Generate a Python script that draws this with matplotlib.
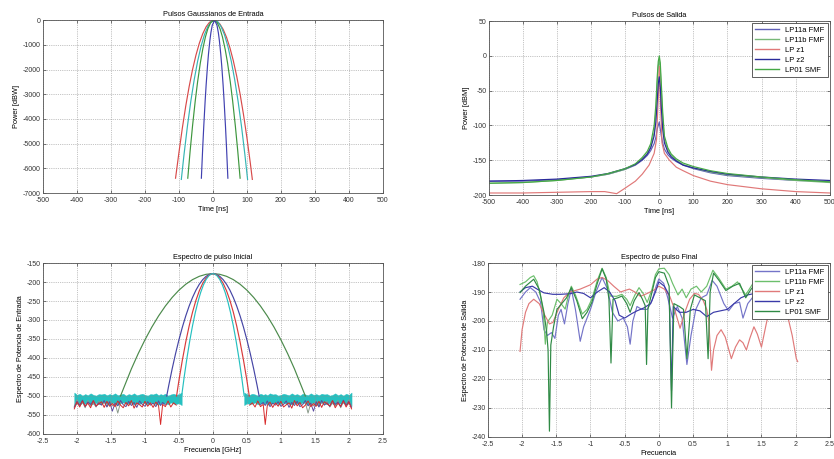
import matplotlib
matplotlib.use("Agg")
import matplotlib.pyplot as plt
import numpy as np

plt.rcParams['font.family'] = ['Liberation Sans', 'DejaVu Sans']
plt.rcParams['font.size'] = 5
plt.rcParams['axes.unicode_minus'] = False

# ---------------- top left: input gaussian pulses ----------------
t_red = [-110, -100, -90, -80, -70, -60, -50, -40, -30, -20, -10, 0, 3, 10, 20, 30, 40, 50, 60, 70, 80, 90, 100, 110, 116]
p_red = [-6400, -5358, -4368, -3479, -2691, -2004, -1419, -934, -550, -267, -85, -5, 0, -25, -146, -368, -691, -1116, -1641, -2267, -2994, -3822, -4752, -5782, -6448]
t_cyan = [-93, -85, -75, -65, -55, -45, -35, -25, -15, -5, 4.5, 14, 24, 34, 44, 54, 64, 74, 84, 94, 102]
p_cyan = [-6450, -5435, -4288, -3277, -2402, -1662, -1059, -590, -258, -61, 0, -61, -258, -590, -1059, -1662, -2402, -3277, -4288, -5435, -6450]
t_green = [-74, -67, -60, -52, -45, -37, -30, -22, -15, -7, 3, 13, 21, 28, 36, 43, 51, 58, 66, 73, 80]
p_green = [-6400, -5289, -4284, -3265, -2487, -1727, -1175, -675, -350, -108, 0, -108, -350, -675, -1175, -1727, -2487, -3265, -4284, -5289, -6400]
t_blue = [-34, -30, -27, -23, -20, -16, -13, -9, -6, -2, 5, 12, 16, 19, 23, 26, 30, 33, 37, 40, 44]
p_blue = [-6400, -5155, -4309, -3299, -2630, -1856, -1363, -825, -509, -206, 0, -206, -509, -825, -1363, -1856, -2630, -3299, -4309, -5155, -6400]

# ---------------- top right: output pulses ----------------
t_out = [-500, -400, -300, -200, -150, -100, -70, -50, -35, -25, -15, -10, -6, -3, 0, 3, 6, 10, 15, 25, 35, 50, 70, 100, 150, 200, 300, 400, 500]
out_lp11a = [-180, -180, -178, -174, -170, -163, -157, -150, -143, -136, -126, -117, -105, -100, -95, -105, -115, -125, -134, -142, -147, -152, -157, -162, -168, -172, -176, -179, -180]
out_lp11b = [-183, -182, -179, -174, -170, -163, -156, -148, -140, -130, -110, -80, -40, -15, -5, -20, -50, -90, -120, -135, -143, -150, -156, -161, -167, -171, -175, -179, -182]
out_lpz2 = [-180, -179, -177, -173, -169, -162, -156, -149, -141, -132, -115, -95, -65, -40, -30, -45, -75, -105, -125, -138, -145, -151, -157, -161, -166, -170, -174, -177, -179]
out_lp01 = [-183, -182, -179, -174, -169, -162, -155, -146, -137, -126, -100, -70, -30, -8, 0, -10, -40, -80, -115, -132, -141, -148, -154, -159, -165, -169, -174, -178, -181]
t_out_z1 = [-500, -400, -300, -200, -160, -125, -100, -70, -50, -30, -15, -8, -3, 0, 3, 8, 15, 30, 50, 70, 100, 150, 200, 300, 400, 500]
out_lpz1 = [-197, -197, -196, -195, -195, -198, -190, -180, -170, -157, -140, -120, -60, -15, -60, -125, -140, -150, -160, -165, -172, -180, -185, -191, -195, -197]

# ---------------- bottom left: input spectra ----------------
f_sg = [-1.36, -1.2, -1.1, -1.0, -0.9, -0.8, -0.7, -0.6, -0.5, -0.4, -0.3, -0.2, -0.1, 0, 0.1, 0.2, 0.3, 0.4, 0.5, 0.6, 0.7, 0.8, 0.9, 1.0, 1.1, 1.2, 1.36]
s_green = [-500, -428.7, -388.7, -352.1, -319, -289.4, -263.3, -240.7, -221.5, -205.9, -193.7, -185, -179.7, -178, -179.7, -185, -193.7, -205.9, -221.5, -240.7, -263.3, -289.4, -319, -352.1, -388.7, -428.7, -500]
f_sb = [-0.68, -0.65, -0.6, -0.55, -0.5, -0.45, -0.4, -0.35, -0.3, -0.25, -0.2, -0.15, -0.1, -0.05, 0, 0.05, 0.1, 0.15, 0.2, 0.25, 0.3, 0.35, 0.4, 0.45, 0.5, 0.55, 0.6, 0.65, 0.68]
s_blue = [-500, -472.2, -428.7, -388.7, -352.1, -319, -289.4, -263.3, -240.7, -221.5, -205.9, -193.7, -185, -179.7, -178, -179.7, -185, -193.7, -205.9, -221.5, -240.7, -263.3, -289.4, -319, -352.1, -388.7, -428.7, -472.2, -500]
f_sr = [-0.535, -0.5, -0.45, -0.4, -0.35, -0.3, -0.25, -0.2, -0.15, -0.1, -0.05, 0, 0.05, 0.1, 0.15, 0.2, 0.25, 0.3, 0.35, 0.4, 0.45, 0.5, 0.535]
s_red = [-500, -459, -405.8, -358, -315.8, -279.3, -248.3, -223, -203.3, -189.3, -180.8, -178, -180.8, -189.3, -203.3, -223, -248.3, -279.3, -315.8, -358, -405.8, -459, -500]
f_sc = [-0.46, -0.42, -0.38, -0.34, -0.3, -0.26, -0.22, -0.18, -0.14, -0.1, -0.06, -0.02, 0, 0.02, 0.06, 0.1, 0.14, 0.18, 0.22, 0.26, 0.3, 0.34, 0.38, 0.42, 0.46]
s_cyan = [-500, -446.4, -397.7, -353.9, -315, -280.9, -251.7, -227.3, -207.8, -193.2, -183.5, -178.6, -178, -178.6, -183.5, -193.2, -207.8, -227.3, -251.7, -280.9, -315, -353.9, -397.7, -446.4, -500]

# noise floor, left half (the spectrum is symmetric, right half mirrors it)
nf = [-2.04, -2.00, -1.96, -1.92, -1.88, -1.84, -1.80, -1.76, -1.72, -1.68,
      -1.64, -1.60, -1.56, -1.52, -1.48, -1.44, -1.40, -1.36, -1.32, -1.28,
      -1.24, -1.20, -1.16, -1.12, -1.08, -1.04, -1.00, -0.96, -0.92, -0.88,
      -0.84, -0.80, -0.77, -0.74, -0.70, -0.66, -0.62, -0.58, -0.54, -0.50, -0.46]
cyan_hi = [-491, -497, -494, -499, -495, -498, -493, -497, -499, -495,
           -496, -494, -498, -495, -497, -493, -498, -496, -494, -499,
           -495, -497, -493, -498, -496, -494, -497, -499, -495, -496,
           -493, -498, -495, -497, -494, -499, -496, -494, -497, -495, -491]
cyan_lo = [-526, -519, -523, -518, -521, -517, -524, -520, -518, -522,
           -519, -517, -521, -524, -518, -520, -523, -519, -517, -521,
           -520, -518, -523, -519, -521, -517, -520, -522, -518, -519,
           -521, -523, -518, -520, -519, -522, -517, -520, -521, -519, -524]
red_n = [-534, -516, -529, -513, -527, -519, -531, -512, -526, -521,
         -515, -530, -514, -527, -520, -528, -513, -524, -531, -517,
         -526, -512, -532, -518, -523, -529, -514, -527, -518, -530,
         -516, -525, -575, -522, -528, -513, -529, -518, -524, -515, -520]
blue_n = [-530, -514, -525, -511, -528, -516, -522, -513, -527, -518,
          -524, -512, -529, -515, -540, -519, -526, -512, -523, -528,
          -514, -525, -517, -530, -513, -522, -527, -515, -524, -519,
          -528, -513, -525, -517, -523, -515, -526, -514, -522, -516, -520]
green_n = [-527, -510, -522, -515, -531, -512, -525, -518, -529, -514,
           -523, -516, -528, -513, -526, -519, -545, -517, -524, -512,
           -520, -515, -522, -518, -521, -516, -520, -517, -522, -518,
           -521, -516, -520, -518, -522, -517, -521, -519, -520, -518, -520]

# ---------------- bottom right: output spectra ----------------
f_a = [-2.03, -1.95, -1.88, -1.8, -1.73, -1.68, -1.63, -1.57, -1.52, -1.47, -1.43, -1.38, -1.33, -1.28, -1.22, -1.15, -1.1, -1.0, -0.92, -0.83, -0.75, -0.68, -0.6, -0.52, -0.46, -0.42, -0.38, -0.32, -0.25, -0.17, -0.1, -0.04,
       0, 0.07, 0.13, 0.2, 0.27, 0.34, 0.41, 0.47, 0.54, 0.62, 0.7, 0.78, 0.85, 0.95, 1.02, 1.1, 1.18, 1.23, 1.3, 1.4, 1.5, 1.7, 2.03]
sp_lp11a = [-192.5, -190, -188.5, -190, -193.5, -203, -205, -204, -206, -198, -196, -201, -194, -189, -196, -207, -202, -196, -190, -185, -189, -197, -200, -199, -202, -208, -200, -195, -196, -196, -193, -188,
            -185.5, -187, -192, -199, -195, -199, -215, -205, -196, -192, -191, -186, -188, -194, -196.5, -194, -193.5, -199, -194, -191, -191, -190, -193]
f_b = [-2.03, -1.95, -1.88, -1.83, -1.78, -1.73, -1.69, -1.66, -1.63, -1.56, -1.49, -1.43, -1.37, -1.32, -1.28, -1.22, -1.12, -1.05, -0.98, -0.9, -0.83, -0.77, -0.71, -0.62, -0.54, -0.47, -0.42, -0.35, -0.29, -0.23, -0.17, -0.1, -0.05,
       0, 0.08, 0.15, 0.2, 0.28, 0.34, 0.4, 0.47, 0.55, 0.62, 0.7, 0.79, 0.87, 0.98, 1.07, 1.15, 1.27, 1.35, 1.42, 1.5, 1.7, 2.03]
sp_lp11b = [-187.4, -186.5, -185, -184.4, -186.5, -191.4, -197, -208, -200.4, -198, -192.5, -194, -195.9, -191, -188, -191, -197.6, -196, -192.5, -186, -181.8, -185, -191.4, -191.5, -190.8, -192.5, -194.7, -191, -188.5, -190.5, -193.6, -189, -184,
            -182, -181.8, -184, -187, -191, -189, -192, -189, -188, -190, -188, -182.5, -185, -189, -188, -186.5, -191, -188, -185.5, -186, -188, -190]
f_z1 = [-2.03, -2.0, -1.95, -1.9, -1.83, -1.75, -1.68, -1.6, -1.55, -1.47, -1.39, -1.3, -1.15, -1.0, -0.9, -0.83, -0.75, -0.66, -0.56, -0.5, -0.43, -0.35, -0.27, -0.17, -0.07,
        0, 0.08, 0.16, 0.23, 0.31, 0.38, 0.45, 0.52, 0.58, 0.65, 0.7, 0.73, 0.77, 0.8, 0.85, 0.91, 0.97, 1.06, 1.12, 1.18, 1.23, 1.28, 1.33, 1.39, 1.44, 1.5, 1.57, 1.62, 1.7, 1.8, 1.89, 1.95, 2.01, 2.03]
sp_lpz1 = [-210.5, -203, -197, -194, -192.5, -194, -197.5, -201, -200.5, -196, -192, -190, -189, -187.5, -185.5, -185, -186, -188, -190, -189.5, -189, -190, -191.5, -190.5, -189.3,
           -188, -189, -191.5, -196, -202.5, -197, -192.5, -190.5, -190.8, -193, -196, -200, -217, -210, -205, -203, -205.5, -213, -209, -206.5, -207.5, -210, -206, -202, -204.5, -209, -201, -196, -192, -192, -199, -205, -213, -214]
f_z2 = [-2.03, -1.95, -1.85, -1.78, -1.68, -1.55, -1.44, -1.3, -1.2, -1.1, -1.0, -0.9, -0.8, -0.72, -0.64, -0.58, -0.5, -0.4, -0.32, -0.22, -0.12, -0.05,
        0, 0.08, 0.15, 0.185, 0.21, 0.3, 0.4, 0.5, 0.6, 0.7, 0.8, 0.9, 1.0, 1.1, 1.2, 1.3, 1.4, 1.5, 1.7, 1.9, 2.03]
sp_lpz2 = [-190, -188.5, -188, -189, -190.3, -190.8, -190.8, -190.6, -190, -190.5, -192, -190, -188.5, -190, -193, -198, -199, -197.5, -196.5, -195.5, -194, -190,
           -186.5, -188, -191, -224, -195, -197, -197, -196, -196.5, -198.5, -197, -196.5, -196, -194, -192, -191, -190.5, -190, -190, -199, -193]
f_01 = [-2.03, -1.95, -1.83, -1.75, -1.68, -1.64, -1.62, -1.6, -1.58, -1.54, -1.49, -1.42, -1.35, -1.28, -1.2, -1.12, -1.05, -0.98, -0.9, -0.83, -0.77, -0.73, -0.7, -0.67, -0.6, -0.54, -0.47, -0.42, -0.36, -0.29, -0.24, -0.2, -0.18, -0.16, -0.1, -0.05,
        0, 0.08, 0.15, 0.185, 0.22, 0.3, 0.36, 0.41, 0.46, 0.52, 0.6, 0.68, 0.72, 0.75, 0.8, 0.88, 0.98, 1.08, 1.18, 1.27, 1.35, 1.42, 1.5, 1.7, 2.03]
sp_lp01 = [-190.2, -188, -185.6, -189, -197, -204, -210, -238, -208.3, -202, -196, -194, -192, -188.5, -193, -199.2, -197, -193.6, -187, -182, -185.5, -192.5, -214.5, -192.5, -192, -191.4, -194, -197, -193, -190.2, -192.5, -194.7, -215, -195.9, -190, -185,
           -183, -183.5, -188, -230, -194, -195, -196, -213, -196, -191, -192, -193, -213, -190, -183.5, -186, -189.5, -188, -187, -192, -189, -187, -187.5, -189, -191]

names = ['LP11a FMF', 'LP11b FMF', 'LP z1', 'LP z2', 'LP01 SMF']
freq_ticks = [-2.5, -2, -1.5, -1, -0.5, 0, 0.5, 1, 1.5, 2, 2.5]
freq_labels = ['-2.5', '-2', '-1.5', '-1', '-0.5', '0', '0.5', '1', '1.5', '2', '2.5']
LW = 0.85


def style(ax, xt, yt, xl=None):
    ax.set_xticks(xt)
    ax.set_yticks(yt)
    if xl is not None:
        ax.set_xticklabels(xl)
    ax.grid(True, ls=':', color='#8c8c8c', lw=0.5)
    ax.tick_params(direction='in', length=2.5, width=0.5, top=True, right=True,
                   labelsize=5, pad=1.5, labelcolor='#333333', color='#444444')
    ax.tick_params(axis='x', pad=3)
    for s in ax.spines.values():
        s.set_linewidth(0.6)
        s.set_color('#555555')


def legend(ax):
    leg = ax.legend(loc='upper right', fontsize=5.5, fancybox=False, framealpha=1,
                    edgecolor='#444444', handlelength=3.2, borderpad=0.4,
                    labelspacing=0.35, borderaxespad=0.3)
    leg.get_frame().set_linewidth(0.6)
    for line in leg.get_lines():
        line.set_linewidth(1.0)


fig = plt.figure(figsize=(8.34, 4.59), dpi=100)

# top left
ax1 = fig.add_axes([0.0516, 0.5795, 0.4074, 0.3765])
ax1.plot(t_red, p_red, color='#d84a4a', lw=LW)
ax1.plot(t_cyan, p_cyan, color='#35b5b5', lw=LW)
ax1.plot(t_green, p_green, color='#3d963d', lw=LW)
ax1.plot(t_blue, p_blue, color='#4040b0', lw=LW)
ax1.set_xlim(-500, 500)
ax1.set_ylim(-7000, 0)
style(ax1, range(-500, 501, 100), range(-7000, 1, 1000))
ax1.set_title('Pulsos Gaussianos de Entrada', fontsize=5.3, pad=3)
ax1.set_xlabel('Time [ns]', fontsize=5.3, labelpad=1)
ax1.set_ylabel('Power [dBW]', fontsize=5.3, labelpad=2)

# top right
ax2 = fig.add_axes([0.586, 0.575, 0.409, 0.379])
ax2.plot(t_out, out_lp11a, color='#6060b8', lw=LW, label=names[0])
ax2.plot(t_out, out_lp11b, color='#78b878', lw=LW, label=names[1])
ax2.plot(t_out_z1, out_lpz1, color='#e07878', lw=LW, label=names[2])
ax2.plot(t_out, out_lpz2, color='#2a2a9a', lw=LW, label=names[3])
ax2.plot(t_out, out_lp01, color='#45a845', lw=LW, label=names[4])
ax2.set_xlim(-500, 500)
ax2.set_ylim(-200, 50)
style(ax2, range(-500, 501, 100), range(-200, 51, 50))
ax2.set_title('Pulsos de Salida', fontsize=5.3, pad=3)
ax2.set_xlabel('Time [ns]', fontsize=5.3, labelpad=1)
ax2.set_ylabel('Power [dBM]', fontsize=5.3, labelpad=2)
legend(ax2)

# bottom left
ax3 = fig.add_axes([0.0516, 0.0545, 0.4074, 0.3725])
nf_r = [-f for f in nf[::-1]]


def noise_line(ax, vals, cut, color):
    fl = [f for f in nf if f <= cut]
    vl = vals[:len(fl)]
    ax.plot(fl, vl, color=color, lw=0.7)
    ax.plot([-f for f in fl[::-1]], vl[::-1], color=color, lw=0.7)


ax3.plot(f_sg, s_green, color='#4b8a4b', lw=LW)
noise_line(ax3, green_n, -1.36, '#8a9a8a')
ax3.plot(f_sb, s_blue, color='#4545a5', lw=LW)
noise_line(ax3, blue_n, -0.68, '#5a4aa0')
ax3.plot(f_sr, s_red, color='#d83a3a', lw=LW)
noise_line(ax3, red_n, -0.535, '#d82a2a')
ax3.plot(f_sc, s_cyan, color='#25c0c0', lw=LW)
ax3.fill_between(nf, cyan_lo, cyan_hi, color='#25c0c0', lw=0.3)
ax3.fill_between(nf_r, cyan_lo[::-1], cyan_hi[::-1], color='#25c0c0', lw=0.3)
ax3.set_xlim(-2.5, 2.5)
ax3.set_ylim(-600, -150)
style(ax3, freq_ticks, range(-600, -149, 50), freq_labels)
ax3.set_title('Espectro de pulso Inicial', fontsize=5.3, pad=3)
ax3.set_xlabel('Frecuencia [GHz]', fontsize=5.3, labelpad=1)
ax3.set_ylabel('Espectro de Potencia de Entrada', fontsize=5.3, labelpad=2)

# bottom right
ax4 = fig.add_axes([0.585, 0.048, 0.41, 0.379])
ax4.plot(f_a, sp_lp11a, color='#7474c8', lw=LW, label=names[0])
ax4.plot(f_b, sp_lp11b, color='#6cbf6c', lw=LW, label=names[1])
ax4.plot(f_z1, sp_lpz1, color='#e07a7a', lw=LW, label=names[2])
ax4.plot(f_z2, sp_lpz2, color='#3a3aa8', lw=LW, label=names[3])
ax4.plot(f_01, sp_lp01, color='#2f8a45', lw=LW, label=names[4])
ax4.set_xlim(-2.5, 2.5)
ax4.set_ylim(-240, -180)
style(ax4, freq_ticks, range(-240, -179, 10), freq_labels)
ax4.set_title('Espectro de pulso Final', fontsize=5.3, pad=3)
ax4.set_xlabel('Frecuencia', fontsize=5.3, labelpad=1)
ax4.set_ylabel('Espectro de Potencia de Salida', fontsize=5.3, labelpad=2)
legend(ax4)

fig.savefig('out.png', dpi=100)
